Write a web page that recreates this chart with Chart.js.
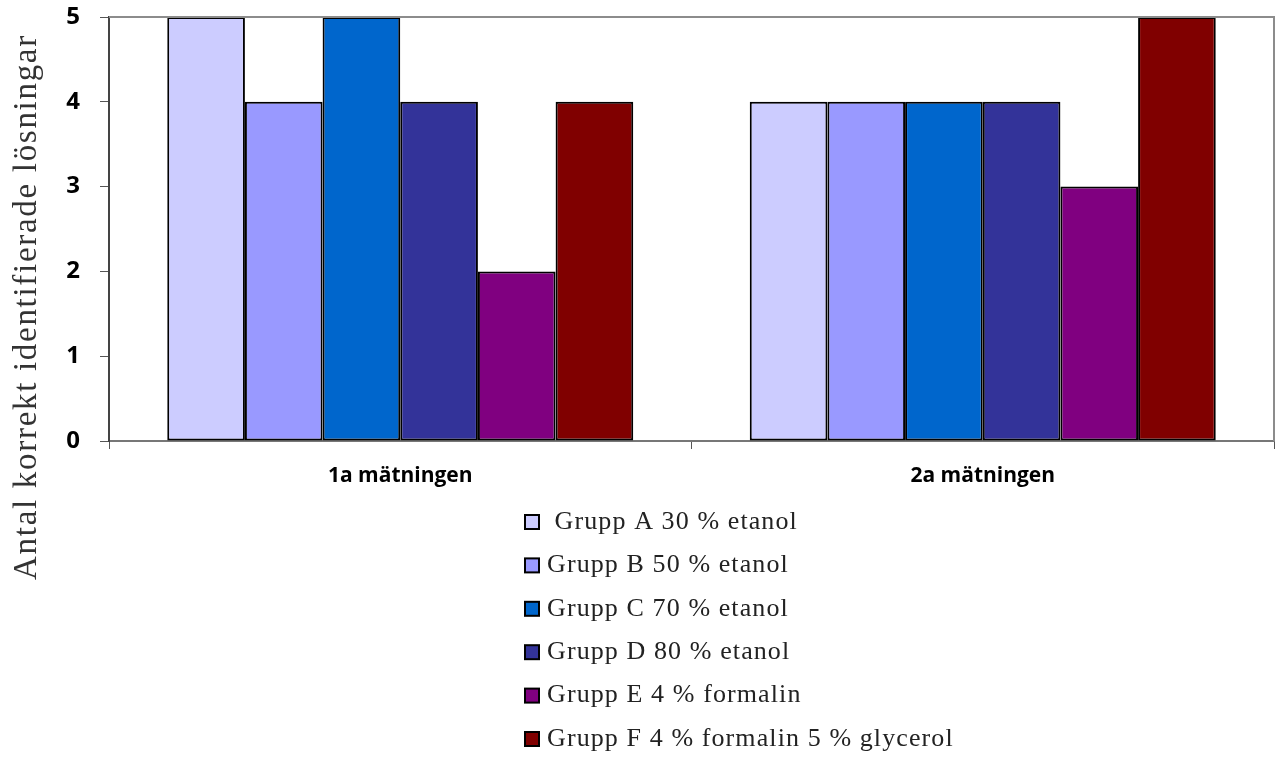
<!DOCTYPE html>
<html lang="sv">
<head>
<meta charset="UTF-8">
<title>Antal korrekt identifierade lösningar</title>
<script src="https://cdn.jsdelivr.net/npm/chart.js"></script>
<style>
  body { margin: 0; background: #fff; }
  #wrap { width: 1279px; height: 760px; }
</style>
</head>
<body>
<div id="wrap"><canvas id="grafico"></canvas></div>
<script>
// data
const kategorier = ['1a mätningen', '2a mätningen'];
const grupper = [' Grupp A 30 % etanol', 'Grupp B 50 % etanol', 'Grupp C 70 % etanol',
                 'Grupp D 80 % etanol', 'Grupp E 4 % formalin', 'Grupp F 4 % formalin 5 % glycerol'];
const grupp1 = [5, 4];   // A
const grupp2 = [4, 4];   // B
const grupp3 = [5, 4];   // C
const grupp4 = [4, 4];   // D
const grupp5 = [2, 3];   // E
const grupp6 = [4, 5];   // F
const yTicks = [0, 1, 2, 3, 4, 5];
const yTitel = 'Antal korrekt identifierade lösningar';

const farger = ['#CCCCFF', '#9999FF', '#0066CC', '#333399', '#800080', '#800000'];
const serier = [grupp1, grupp2, grupp3, grupp4, grupp5, grupp6];

const datasets = serier.map(function (v, i) {
    return {
        label: grupper[i],
        data: v,
        backgroundColor: farger[i],
        borderColor: '#000',
        borderWidth: 2,
        borderSkipped: false,
        categoryPercentage: 0.8,
        barPercentage: 1.0
    };
});

// plot frame (top + right), y title and vertical legend
const extras = {
    id: 'extras',
    afterDraw(chart) {
        const ctx = chart.ctx;
        const a = chart.chartArea;
        ctx.save();
        ctx.strokeStyle = '#8c8c8c';
        ctx.lineWidth = 2;
        ctx.beginPath();
        ctx.moveTo(a.left, a.top);
        ctx.lineTo(a.right, a.top);
        ctx.lineTo(a.right, a.bottom);
        ctx.stroke();

        // y axis title
        ctx.fillStyle = '#333';
        ctx.font = '33px "Liberation Serif"';
        ctx.letterSpacing = '1.7px';
        ctx.textAlign = 'center';
        ctx.textBaseline = 'middle';
        ctx.translate(27, 307);
        ctx.rotate(-Math.PI / 2);
        ctx.fillText(yTitel, 0, 0);
        ctx.restore();

        // legend
        ctx.save();
        ctx.font = '26px "Liberation Serif"';
        ctx.letterSpacing = '1.1px';
        ctx.textBaseline = 'middle';
        ctx.textAlign = 'left';
        chart.data.datasets.forEach(function (ds, i) {
            const y = 522 + i * 43.4;
            ctx.fillStyle = ds.backgroundColor;
            ctx.fillRect(525, y - 7, 14, 14);
            ctx.strokeStyle = '#000';
            ctx.lineWidth = 2;
            ctx.strokeRect(525, y - 7, 14, 14);
            ctx.fillStyle = '#222';
            ctx.fillText(ds.label, 547, y);
        });
        ctx.restore();
    }
};

new Chart(document.getElementById('grafico'), {
    type: 'bar',
    data: { labels: kategorier, datasets: datasets },
    options: {
        responsive: true,
        maintainAspectRatio: false,
        animation: false,
        layout: { padding: { left: 0, top: 17, right: 5, bottom: 0 } },
        plugins: {
            legend: { display: false },
            tooltip: { enabled: false }
        },
        scales: {
            x: {
                grid: { display: true, drawOnChartArea: false, offset: true, tickLength: 8, color: '#555', lineWidth: 1 },
                border: { color: '#777', width: 2 },
                ticks: { color: '#000', padding: 14, font: { family: 'Open Sans', weight: 'bold', size: 21 } },
                afterFit(s) { s.height = 319; s.paddingLeft = 0; s.paddingRight = 0; }
            },
            y: {
                min: 0,
                max: 5,
                afterBuildTicks(s) { s.ticks = yTicks.map(function (v) { return { value: v }; }); },
                grid: { display: true, drawOnChartArea: false, tickLength: 9, color: '#555' },
                border: { color: '#444', width: 2 },
                ticks: { color: '#000', padding: 20, font: { family: 'Open Sans', weight: 'bold', size: 24 } },
                afterFit(s) { s.width = 109; s.paddingTop = 0; s.paddingBottom = 0; }
            }
        }
    },
    plugins: [extras]
});
</script>
</body>
</html>
